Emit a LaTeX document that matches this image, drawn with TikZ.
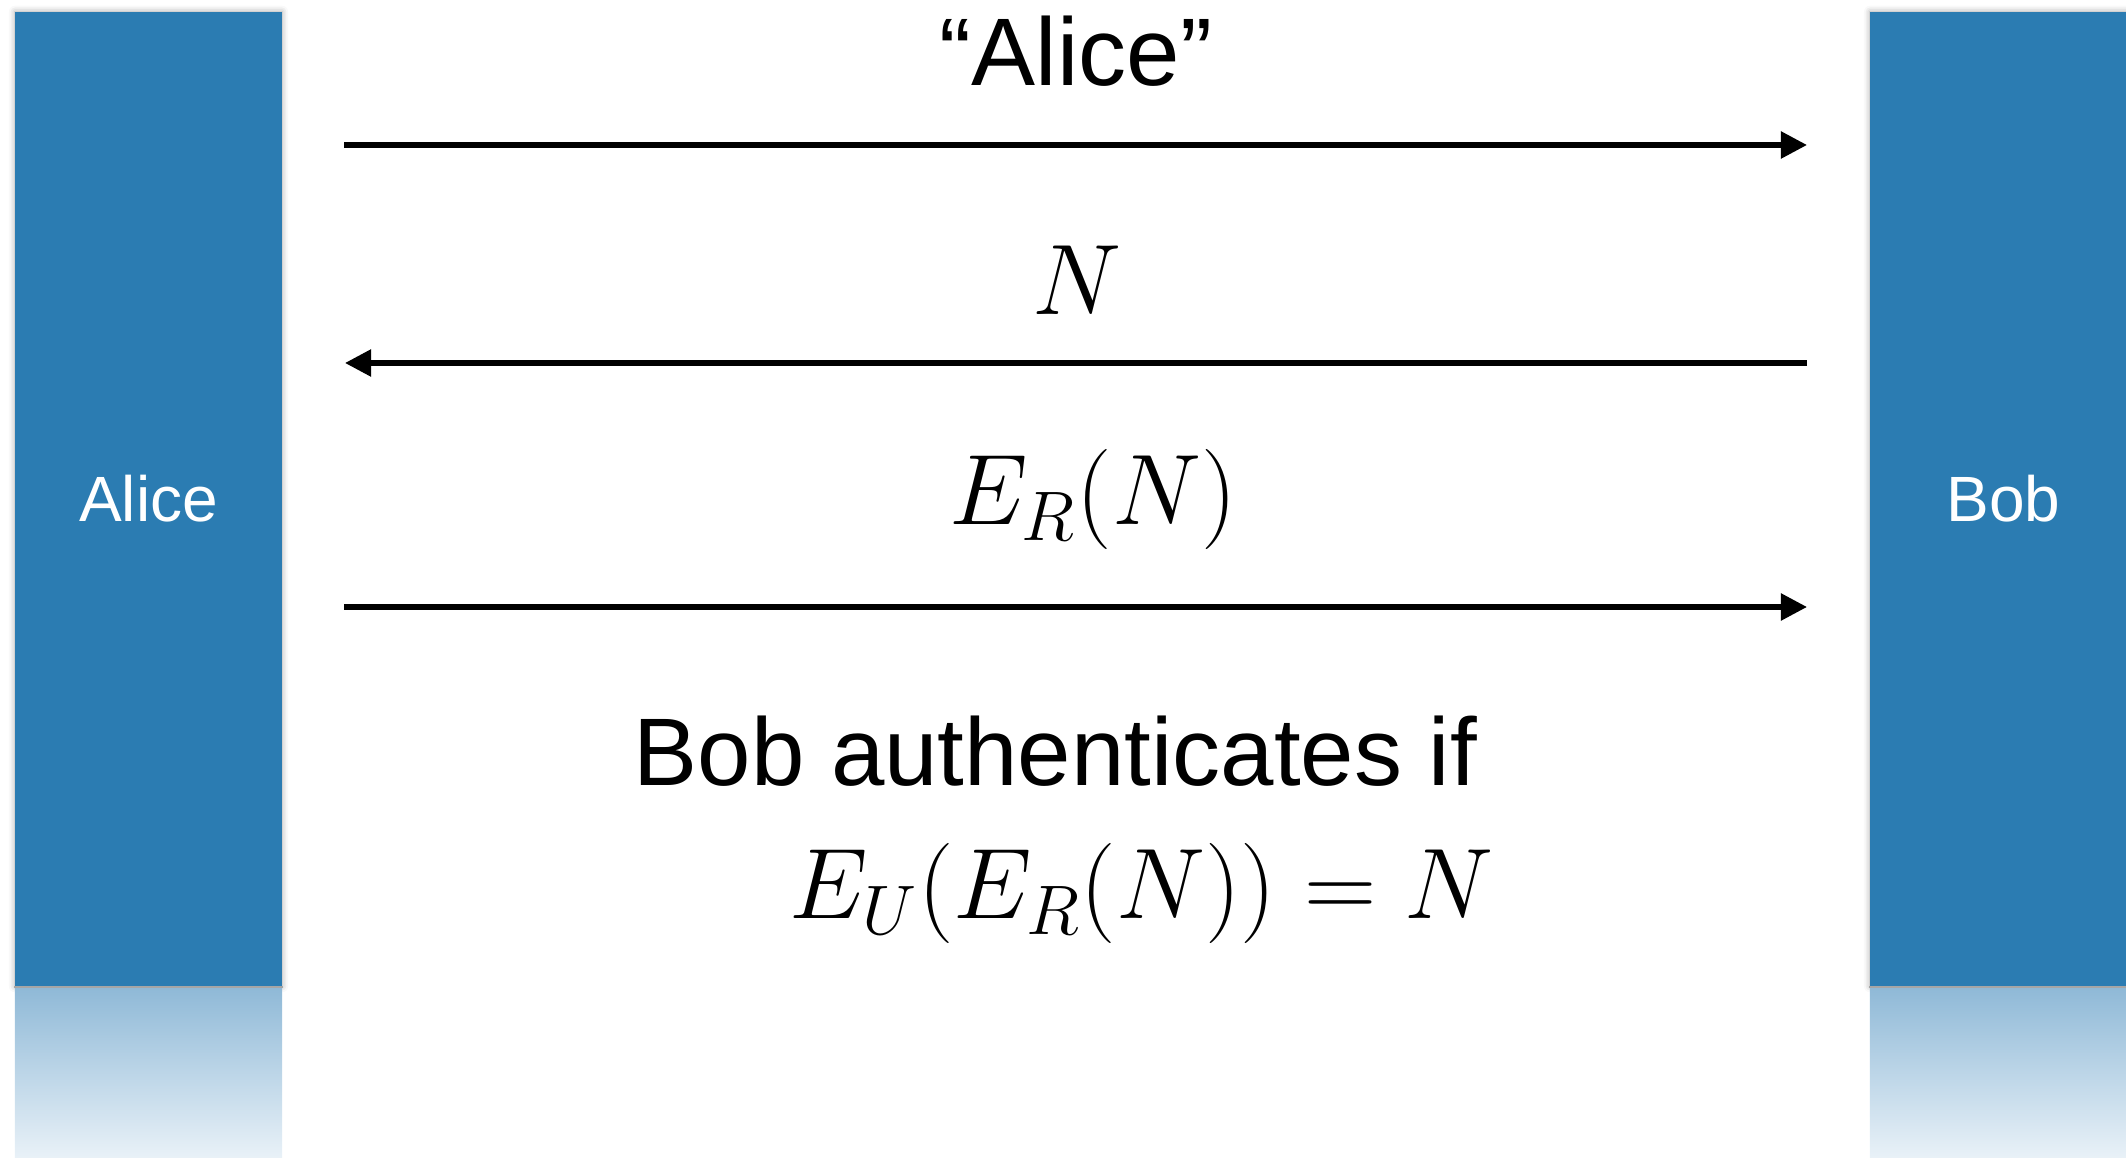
\documentclass[tikz,border=0pt]{standalone}
\usepackage{fix-cm}
\usepackage[no-math]{fontspec}
\setmainfont{Liberation Sans}
\usetikzlibrary{arrows.meta,shadows.blur}
\definecolor{barblue}{HTML}{2B7CB2}
\definecolor{reftop}{HTML}{8FB9D7}
\definecolor{refbot}{HTML}{EAF2F8}
\begin{document}
\begin{tikzpicture}[x=0.01cm,y=-0.01cm,
  bar/.style={rectangle, fill=barblue, minimum width=2.67cm, minimum height=9.74cm, inner sep=0pt, text=white,
    font=\fontsize{18.2pt}{22pt}\selectfont,
    blur shadow={shadow xshift=0pt, shadow yshift=0pt, shadow blur radius=0.06cm, shadow opacity=35}},
  refl/.style={rectangle, top color=reftop, bottom color=refbot, minimum width=2.67cm, minimum height=1.72cm, inner sep=0pt, anchor=north},
  msg/.style={-{Triangle[length=0.26cm,width=0.26cm]}, line width=0.053cm},
  big/.style={font=\fontsize{27.3pt}{33pt}\selectfont, inner sep=0pt},
  bigmath/.style={font=\fontsize{28.5pt}{34pt}\selectfont, inner sep=0pt},
]
\useasboundingbox (0,0) rectangle (2126,1158);
\node[bar] (alice) at (148.5,499) {Alice};
\node[bar] (bob) at (2003.5,499) {Bob};
\node[refl] (arefl) at (alice.south) {};
\node[refl] (brefl) at (bob.south) {};
\draw[gray!70, line width=0.012cm] (arefl.north west) -- (arefl.north east);
\draw[gray!70, line width=0.012cm] (brefl.north west) -- (brefl.north east);
% endpoints of the messages
\coordinate (a1) at (344,145);  \coordinate (b1) at (1807,145);
\coordinate (a2) at (345,363);  \coordinate (b2) at (1807,363);
\coordinate (a3) at (344,607);  \coordinate (b3) at (1807,607);
\draw[msg] (a1) -- (b1);
\draw[msg] (b2) -- (a2);
\draw[msg] (a3) -- (b3);
% labels
\node[big, anchor=base] (q) at (1076,86) {“Alice”};
\node[bigmath, anchor=base] (n) at (1077,315) {$N$};
\node[bigmath, anchor=base] (er) at (1093,525) {$E_R(N)$};
\node[big, anchor=base west] (bobauth) at (633,786) {Bob authenticates if};
\node[bigmath, anchor=base west] (eq) at (789,919) {$E_U(E_R(N)) = N$};
\end{tikzpicture}
\end{document}
